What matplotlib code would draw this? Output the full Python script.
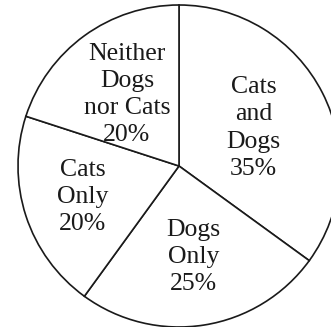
import matplotlib.pyplot as plt
import numpy as np

# Доли семей с питомцами
labels = ["Cats\nand\nDogs", "Dogs\nOnly", "Cats\nOnly", "Neither\nDogs\nnor Cats"]
shares = [35, 25, 20, 20]

# радиальное положение подписей внутри секторов
label_r = [0.52, 0.57, 0.63, 0.55]

fig = plt.figure(figsize=(3.31, 3.27), dpi=100, facecolor="white")
ax = fig.add_axes([18 / 331, 0 / 327, 322 / 331, 322 / 327])

wedges, _ = ax.pie(
    shares,
    startangle=90,
    counterclock=False,
    radius=1,
    wedgeprops=dict(facecolor="white", edgecolor="#1a1a1a", linewidth=1.2),
)

for w, lab, val, r in zip(wedges, labels, shares, label_r):
    mid = np.deg2rad((w.theta1 + w.theta2) / 2)
    ax.text(
        r * np.cos(mid),
        r * np.sin(mid),
        f"{lab}\n{val}%",
        ha="center",
        va="center",
        family=["Liberation Serif", "DejaVu Serif"],
        fontsize=18.5,
        color="#1a1a1a",
        linespacing=1.3,
    )

ax.set_xlim(-1, 1)
ax.set_ylim(-1, 1)
ax.set_aspect("equal")
ax.axis("off")

fig.savefig("out.png", dpi=100)
